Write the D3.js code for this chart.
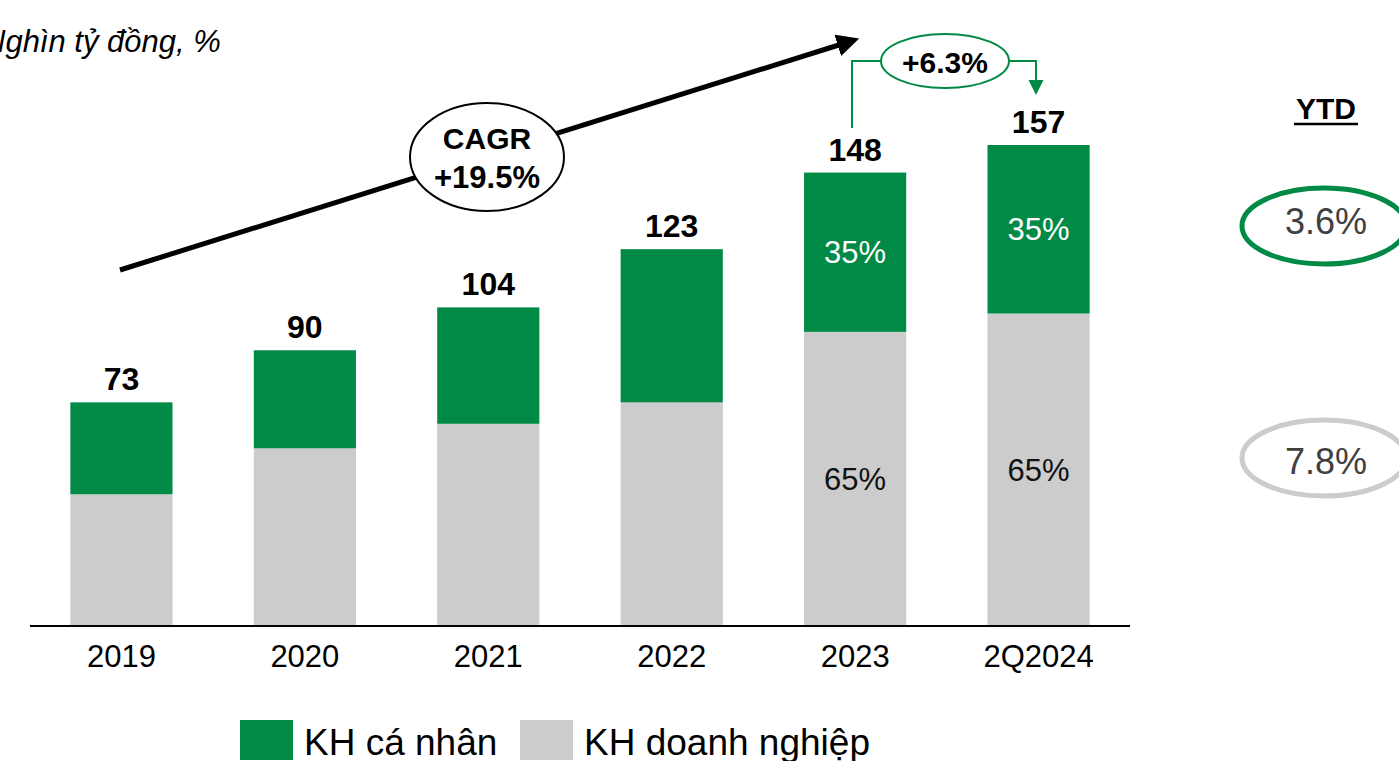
<!DOCTYPE html>
<html><head><meta charset="utf-8">
<script src="https://cdn.jsdelivr.net/npm/d3@7"></script>
<style>body{margin:0;background:#fff;overflow:hidden}svg{display:block;font-family:"Liberation Sans",Arial,sans-serif}</style>
</head><body>
<svg id="c" width="1399" height="761"></svg>
<script>
const categories = ["2019","2020","2021","2022","2023","2Q2024"];
const retail = [30, 32, 38, 50, 52, 55];      // KH cá nhân
const corporate = [43, 58, 66, 73, 96, 102];  // KH doanh nghiệp
const totals = [73, 90, 104, 123, 148, 157];
const retailPctLabels = [null, null, null, null, "35%", "35%"];
const corpPctLabels = [null, null, null, null, "65%", "65%"];
const seriesNames = ["KH cá nhân", "KH doanh nghiệp"];
const ytdLabels = ["3.6%", "7.8%"];
const cagrText = ["CAGR", "+19.5%"];
const growthText = "+6.3%";
const subtitle = "Nghìn tỷ đồng, %";

const GREEN = "#008A45", GREY = "#CCCCCC";
const svg = d3.select("#c");

const x = d3.scaleBand().domain(categories).range([30, 1130]).paddingInner(0.443).paddingOuter(0.22);
const y = d3.scaleLinear().domain([0, 157]).range([626, 145]);

const rows = categories.map((c,i)=>({cat:c, corporate:corporate[i], retail:retail[i]}));
const stack = d3.stack().keys(["corporate","retail"])(rows);
const colors = {corporate: GREY, retail: GREEN};

svg.append("g").selectAll("g").data(stack).join("g")
  .attr("fill", d => colors[d.key])
  .selectAll("rect").data(d => d).join("rect")
  .attr("x", d => x(d.data.cat)).attr("width", x.bandwidth())
  .attr("y", d => y(d[1])).attr("height", d => y(d[0]) - y(d[1]));

// axis
const xAxis = svg.append("g").attr("transform","translate(0,626)")
  .call(d3.axisBottom(x).tickSize(0));
xAxis.select(".domain").attr("stroke","#000").attr("stroke-width",2).attr("d","M30,0H1130");
xAxis.selectAll("text").attr("font-size",31).attr("fill","#000").attr("dy",null).attr("y",41)
  .attr("font-family","Liberation Sans, Arial, sans-serif");

// totals
svg.append("g").selectAll("text").data(categories).join("text")
  .attr("x", d => x(d) + x.bandwidth()/2)
  .attr("y", (d,i) => y(totals[i]) - 12)
  .attr("text-anchor","middle").attr("font-size",32).attr("font-weight","bold")
  .text((d,i) => totals[i]);

// pct labels
categories.forEach((c,i)=>{
  const cx = x(c) + x.bandwidth()/2;
  if (retailPctLabels[i]) svg.append("text").attr("x",cx)
    .attr("y",(y(totals[i])+y(corporate[i]))/2).attr("dy","0.36em")
    .attr("text-anchor","middle").attr("font-size",31).attr("fill","#fff").text(retailPctLabels[i]);
  if (corpPctLabels[i]) svg.append("text").attr("x",cx)
    .attr("y",(y(corporate[i])+y(0))/2).attr("dy","0.36em")
    .attr("text-anchor","middle").attr("font-size",31).attr("fill","#111").text(corpPctLabels[i]);
});

// subtitle
svg.append("text").attr("x",-17).attr("y",52).attr("font-size",31).attr("font-style","italic").text(subtitle);

// CAGR arrow
const defs = svg.append("defs");
defs.append("marker").attr("id","ah").attr("viewBox","0 0 10 10").attr("refX",2).attr("refY",5)
  .attr("markerWidth",4.5).attr("markerHeight",4.5).attr("orient","auto")
  .append("path").attr("d","M0,0L10,5L0,10z").attr("fill","#000");
svg.append("line").attr("x1",120).attr("y1",270).attr("x2",842).attr("y2",44)
  .attr("stroke","#000").attr("stroke-width",5).attr("marker-end","url(#ah)");
svg.append("ellipse").attr("cx",487).attr("cy",157).attr("rx",77).attr("ry",54)
  .attr("fill","#fff").attr("stroke","#000").attr("stroke-width",2);
svg.append("text").attr("x",487).attr("y",149).attr("text-anchor","middle").attr("font-size",30).attr("font-weight","bold").text(cagrText[0]);
svg.append("text").attr("x",487).attr("y",188).attr("text-anchor","middle").attr("font-size",31).attr("font-weight","bold").text(cagrText[1]);

// +6.3% bracket
const x23 = 852, x24 = 1036;
svg.append("path").attr("d",`M${x23},128V61H${x24}V82`).attr("fill","none").attr("stroke",GREEN).attr("stroke-width",2);
svg.append("path").attr("d",`M${x24-7.5},80L${x24+7.5},80L${x24},95Z`).attr("fill",GREEN);
svg.append("ellipse").attr("cx",945).attr("cy",61).attr("rx",64).attr("ry",27)
  .attr("fill","#fff").attr("stroke",GREEN).attr("stroke-width",2);
svg.append("text").attr("x",945).attr("y",73).attr("text-anchor","middle").attr("font-size",30).attr("font-weight","bold").text(growthText);

// YTD
svg.append("text").attr("x",1326).attr("y",119).attr("text-anchor","middle").attr("font-size",30).attr("font-weight","bold").text("YTD");
svg.append("line").attr("x1",1294).attr("x2",1358).attr("y1",124).attr("y2",124).attr("stroke","#000").attr("stroke-width",2.5);
const ytdPos = [226, 458];
const ytdTextPos = [221, 461];
const ytdCol = [GREEN, GREY];
ytdLabels.forEach((t,i)=>{
  svg.append("ellipse").attr("cx",1324).attr("cy",ytdPos[i]).attr("rx",82).attr("ry",38)
    .attr("fill","none").attr("stroke",ytdCol[i]).attr("stroke-width",5);
  svg.append("text").attr("x",1326).attr("y",ytdTextPos[i]).attr("dy","0.36em").attr("text-anchor","middle")
    .attr("font-size",36).attr("fill","#404040").text(t);
});

// legend
const lg = svg.append("g");
const legX = [240, 520];
[GREEN, GREY].forEach((c,i)=>{
  lg.append("rect").attr("x",legX[i]).attr("y",720).attr("width",53).attr("height",40).attr("fill",c);
  lg.append("text").attr("x",legX[i]+64).attr("y",755).attr("font-size",37).text(seriesNames[i]);
});
</script>
</body></html>
